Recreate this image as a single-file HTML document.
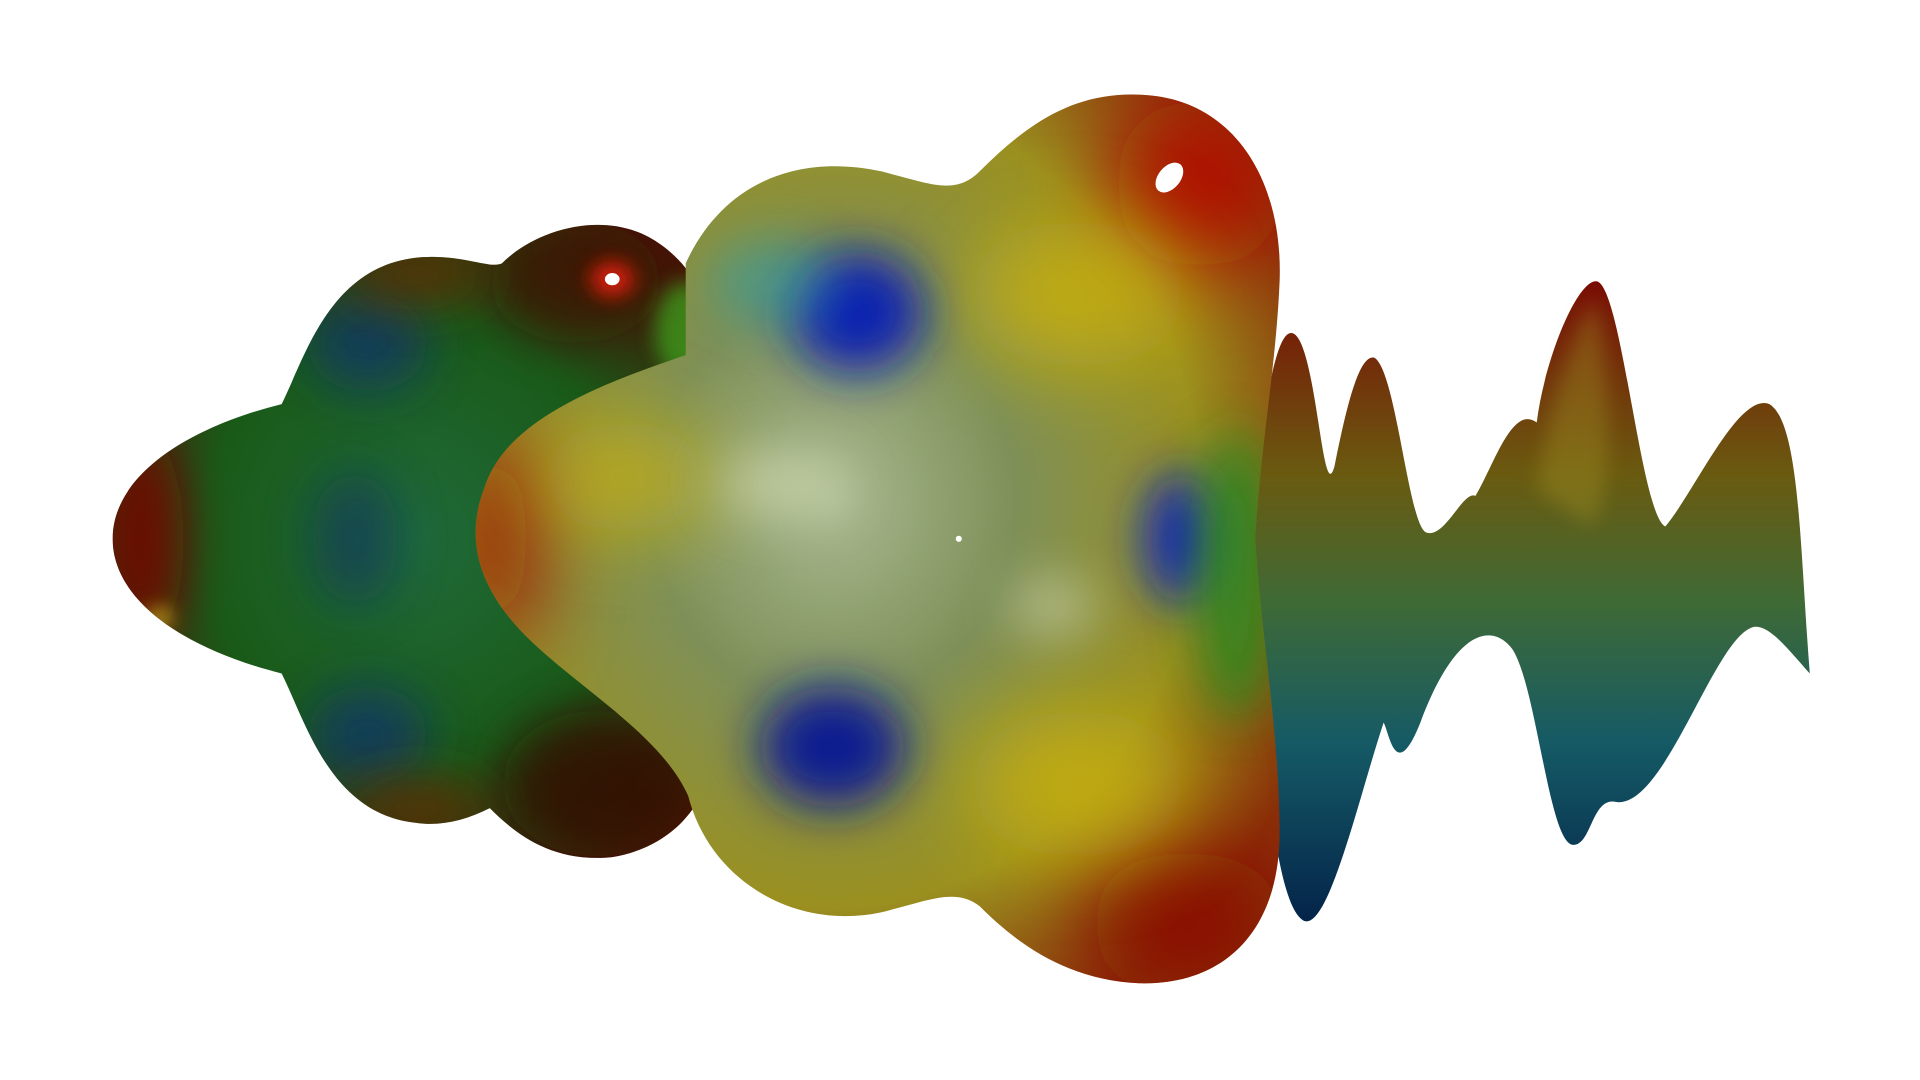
<!DOCTYPE html>
<html><head><meta charset="utf-8"><title>Surface render</title>
<style>html,body{margin:0;padding:0;background:#fff;overflow:hidden}svg{display:block}</style></head>
<body>
<svg width="1920" height="1080" viewBox="0 0 1568 882" xmlns="http://www.w3.org/2000/svg">
<defs>
  <filter id="b8" filterUnits="userSpaceOnUse" x="0" y="0" width="1568" height="882"><feGaussianBlur stdDeviation="8"/></filter>
  <filter id="b20" filterUnits="userSpaceOnUse" x="0" y="0" width="1568" height="882"><feGaussianBlur stdDeviation="20"/></filter>
  <filter id="b35" filterUnits="userSpaceOnUse" x="0" y="0" width="1568" height="882"><feGaussianBlur stdDeviation="35"/></filter>
  <linearGradient id="wave" x1="0" y1="0" x2="0" y2="1">
    <stop offset="0" stop-color="#7a0c05"/><stop offset="0.3" stop-color="#6a5a10"/>
    <stop offset="0.5" stop-color="#3f6a35"/><stop offset="0.72" stop-color="#155a65"/>
    <stop offset="1" stop-color="#04244a"/>
  </linearGradient>
  <radialGradient id="body" cx="0.45" cy="0.46" r="0.62">
    <stop offset="0" stop-color="#a8b890"/><stop offset="0.35" stop-color="#7e9058"/>
    <stop offset="0.7" stop-color="#9a9020"/><stop offset="1" stop-color="#8a3008"/>
  </radialGradient>
  <radialGradient id="left" cx="0.5" cy="0.5" r="0.6">
    <stop offset="0" stop-color="#1f6a3a"/><stop offset="0.55" stop-color="#1a5a18"/>
    <stop offset="1" stop-color="#4a1005"/>
  </radialGradient>
  <clipPath id="bodyClip"><path d="M560,215 C590,150 650,125 720,140 C760,150 780,160 800,140 C840,100 880,72 940,78 C1010,85 1048,150 1045,230 C1042,300 1030,360 1025,440 C1030,520 1045,600 1045,680 C1045,760 1000,805 930,803 C870,800 830,770 800,740 C780,725 760,735 720,745 C650,760 580,720 562,650 C540,600 470,560 430,520 C390,480 380,440 395,400 C410,350 470,320 560,290 Z"/></clipPath>
  <clipPath id="leftClip"><path d="M92,440 C92,390 150,350 230,330 C250,290 270,215 345,210 C380,208 400,220 410,215 C440,185 500,170 540,200 C575,225 590,270 580,310 C500,340 450,380 430,440 C450,500 500,540 580,590 C590,640 560,690 500,700 C450,705 420,680 400,660 C380,670 360,675 340,672 C270,665 250,590 230,550 C150,530 92,490 92,440 Z"/></clipPath>
</defs>

<rect width="1568" height="882" fill="#ffffff"/>

<g>
  <path fill="url(#wave)" d="M1020,440 C1030,350 1040,270 1055,272 C1075,275 1080,420 1090,380 C1100,330 1110,290 1122,292 C1140,300 1150,430 1165,435 C1180,440 1195,400 1205,405 C1220,380 1235,330 1255,345 C1262,290 1290,225 1305,230 C1325,240 1340,420 1360,430 C1385,400 1420,320 1445,330 C1470,345 1470,450 1478,550 C1460,530 1445,510 1432,512 C1400,520 1360,660 1320,655 C1300,650 1300,690 1285,690 C1265,690 1255,560 1235,530 C1220,510 1190,510 1160,590 C1140,640 1135,600 1130,590 C1110,650 1085,760 1065,752 C1040,740 1030,600 1020,440 Z"/>
  <path fill="#a09020" opacity="0.4" filter="url(#b8)" d="M1255,400 C1265,330 1290,255 1303,245 C1315,300 1320,400 1300,430 Z"/>
</g>

<g clip-path="url(#leftClip)">
  <rect x="80" y="160" width="520" height="560" fill="url(#left)"/>
  <ellipse cx="115" cy="440" rx="35" ry="90" fill="#6a0c05" filter="url(#b20)"/>
  <ellipse cx="300" cy="280" rx="50" ry="40" fill="#0a2a80" opacity="0.6" filter="url(#b20)"/>
  <ellipse cx="300" cy="600" rx="50" ry="40" fill="#0a2a80" opacity="0.6" filter="url(#b20)"/>
  <ellipse cx="290" cy="440" rx="35" ry="55" fill="#0a2a70" opacity="0.5" filter="url(#b20)"/>
  <ellipse cx="490" cy="640" rx="80" ry="60" fill="#300805" opacity="0.8" filter="url(#b20)"/>
  <ellipse cx="470" cy="230" rx="70" ry="50" fill="#400a05" opacity="0.7" filter="url(#b20)"/>
  <ellipse cx="340" cy="225" rx="60" ry="25" fill="#6a2a05" opacity="0.7" filter="url(#b20)"/>
  <ellipse cx="340" cy="660" rx="60" ry="25" fill="#6a2a05" opacity="0.7" filter="url(#b20)"/>
  <ellipse cx="560" cy="270" rx="25" ry="40" fill="#40c020" opacity="0.6" filter="url(#b8)"/>
  <ellipse cx="130" cy="505" rx="10" ry="7" fill="#e0c020" filter="url(#b8)"/>
  <ellipse cx="500" cy="228" rx="18" ry="14" fill="#ff2010" opacity="0.8" filter="url(#b8)"/>
  <ellipse cx="500" cy="228" rx="6" ry="5" fill="#ffffff"/>
</g>

<g clip-path="url(#bodyClip)">
  <rect x="370" y="60" width="690" height="760" fill="url(#body)"/>
  <ellipse cx="980" cy="150" rx="70" ry="70" fill="#b01005" filter="url(#b35)"/>
  <ellipse cx="970" cy="755" rx="80" ry="60" fill="#8a0a05" filter="url(#b35)"/>
  <ellipse cx="405" cy="440" rx="30" ry="90" fill="#a01005" filter="url(#b35)"/>
  <ellipse cx="880" cy="240" rx="90" ry="60" fill="#c8b010" opacity="0.85" filter="url(#b35)"/>
  <ellipse cx="880" cy="640" rx="90" ry="60" fill="#c8b010" opacity="0.85" filter="url(#b35)"/>
  <ellipse cx="510" cy="390" rx="70" ry="45" fill="#c8b010" opacity="0.85" filter="url(#b35)"/>
  <ellipse cx="700" cy="255" rx="55" ry="50" fill="#0a20b0" filter="url(#b20)"/>
  <ellipse cx="680" cy="610" rx="60" ry="50" fill="#0a1a90" filter="url(#b20)"/>
  <ellipse cx="965" cy="440" rx="30" ry="55" fill="#0a20c0" filter="url(#b20)"/>
  <ellipse cx="630" cy="230" rx="50" ry="35" fill="#20a0b0" opacity="0.5" filter="url(#b20)"/>
  <ellipse cx="640" cy="395" rx="55" ry="28" fill="#d8e0b8" opacity="0.55" filter="url(#b20)"/>
  <ellipse cx="860" cy="495" rx="35" ry="25" fill="#d8e0c0" opacity="0.5" filter="url(#b20)"/>
  <ellipse cx="1010" cy="470" rx="35" ry="120" fill="#208a20" opacity="0.8" filter="url(#b20)"/>
  <ellipse cx="955" cy="145" rx="9" ry="14" transform="rotate(40 955 145)" fill="#ffffff"/>
  <circle cx="783" cy="440" r="2.5" fill="#ffffff"/>
</g>
</svg>
</body></html>
